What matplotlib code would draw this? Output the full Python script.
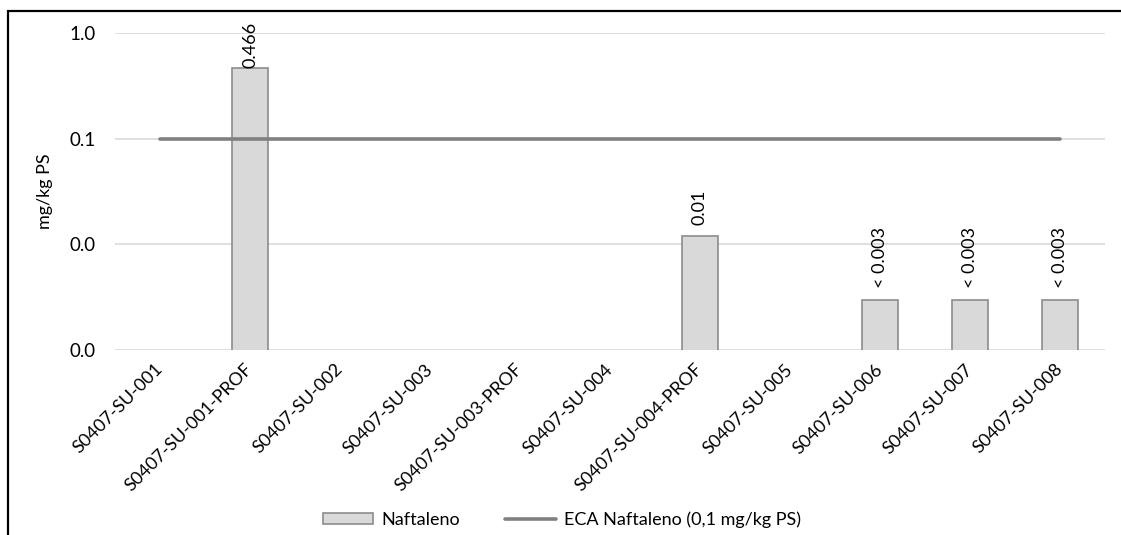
import matplotlib.pyplot as plt
from matplotlib.patches import Rectangle
from matplotlib.ticker import FixedLocator, FuncFormatter, NullLocator

plt.rcParams['font.family'] = ['Lato', 'DejaVu Sans']

# Datos
muestras = ['S0407-SU-001', 'S0407-SU-001-PROF', 'S0407-SU-002', 'S0407-SU-003',
            'S0407-SU-003-PROF', 'S0407-SU-004', 'S0407-SU-004-PROF', 'S0407-SU-005',
            'S0407-SU-006', 'S0407-SU-007', 'S0407-SU-008']
naftaleno = [None, 0.466, None, None, None, None, 0.012, None, 0.003, 0.003, 0.003]
etiquetas = [None, '0.466', None, None, None, None, '0.01', None, '< 0.003', '< 0.003', '< 0.003']
eca = [0.1] * len(muestras)

fig = plt.figure(figsize=(11.21, 5.35), dpi=100)
ax = fig.add_axes([0.1026, 0.3458, 0.8831, 0.5925])

x = list(range(len(muestras)))
xb = [i for i, v in zip(x, naftaleno) if v is not None]
vb = [v for v in naftaleno if v is not None]
barras = ax.bar(xb, vb, width=0.4, color='#d9d9d9', edgecolor='#8c8c8c', linewidth=1.2,
                label='Naftaleno', zorder=2)
linea, = ax.plot(x, eca, color='#808080', linewidth=2.6, solid_capstyle='round',
                 label='ECA Naftaleno (0,1 mg/kg PS)', zorder=3)

# Etiquetas de valores
for i, v, t in zip(x, naftaleno, etiquetas):
    if v is None:
        continue
    off = 0 if v > 0.3 else 8
    ax.annotate(t, (i, v), xytext=(0, off), textcoords='offset points',
                rotation=90, ha='center', va='bottom', fontsize=13, color='#000000')

ax.set_yscale('log')
ax.set_ylim(0.001, 1.0)
ax.set_xlim(-0.5, len(muestras) - 0.5)
ax.yaxis.set_major_locator(FixedLocator([0.001, 0.01, 0.1, 1.0]))
ax.yaxis.set_minor_locator(NullLocator())
ax.yaxis.set_major_formatter(FuncFormatter(lambda v, p: f'{v:.1f}'))
ax.grid(axis='y', color='#d9d9d9', linewidth=1.2, zorder=0)
ax.set_axisbelow(True)
for s in ax.spines.values():
    s.set_visible(False)
ax.tick_params(axis='both', length=0, labelsize=13.5, colors='#000000')
ax.tick_params(axis='y', pad=14)

ax.set_xticks(x)
ax.set_xticklabels(muestras, rotation=45, ha='right', va='center',
                   rotation_mode='anchor', fontsize=13)
ax.tick_params(axis='x', pad=12)

ax.set_ylabel('mg/kg PS', fontsize=13, labelpad=12)

ax.legend([barras, linea], ['Naftaleno', 'ECA Naftaleno (0,1 mg/kg PS)'],
          loc='center', bbox_to_anchor=(0.501, 0.028), bbox_transform=fig.transFigure,
          ncol=2, frameon=False, fontsize=13, handlelength=2.8, handleheight=0.55,
          handletextpad=0.45, columnspacing=2.5)

# Marco exterior
fig.patches.append(Rectangle((8 / 1121, -0.1), 1.2, 1.1 - 11 / 535, transform=fig.transFigure,
                             fill=False, edgecolor='#000000', linewidth=1.6))

fig.savefig('out.png', dpi=100)
